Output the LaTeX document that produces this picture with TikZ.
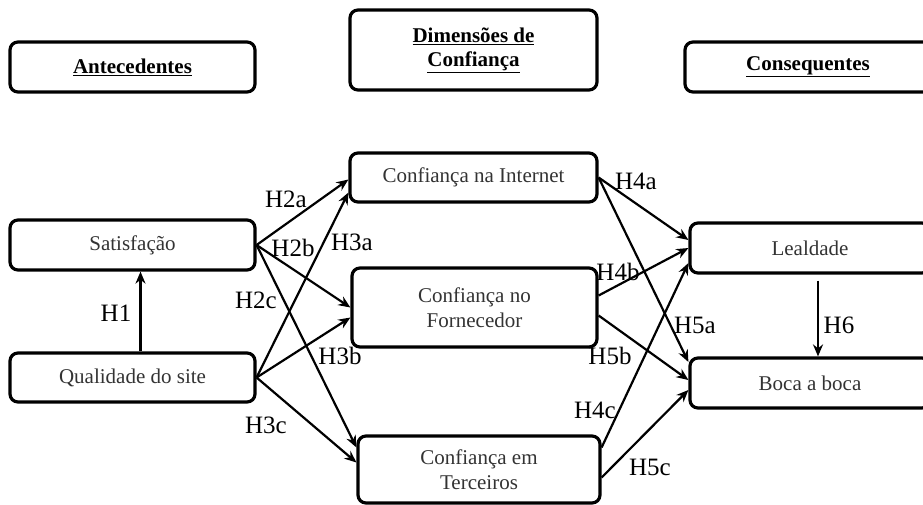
\documentclass[tikz,border=0pt]{standalone}
\usepackage{fontspec}
\setmainfont{Liberation Serif}
\usetikzlibrary{arrows.meta}

\begin{document}
\begin{tikzpicture}[x=1pt, y=-1pt,
        box/.style={rectangle, draw=black, line width=3.2pt, rounded corners=8pt,
                    fill=white, align=center, inner sep=0pt,
                    font=\fontsize{21}{25}\selectfont, text=black!80},
        head/.style={box, font=\fontsize{21}{24}\selectfont\bfseries, text=black},
        lab/.style={font=\fontsize{25}{28}\selectfont, inner sep=0pt},
        arr/.style={-{Stealth[length=12pt,width=10pt]}, line width=2.2pt}]
      \useasboundingbox (0,0) rectangle (923,504);
      \clip (0,0) rectangle (923,504);
      % headings
      \node[head, minimum width=245pt, minimum height=50pt] (ant) at (132.5,67) {\underline{Antecedentes}};
      \node[head, minimum width=247pt, minimum height=80pt] (dim) at (473.5,50) {\underline{Dimensões de}\\\underline{Confiança}};
      \node[head, minimum width=246pt, minimum height=50pt] (con) at (808,67) {\underline{Consequentes}};
      % antecedents
      \node[box, minimum width=245pt, minimum height=50pt] (sat) at (132.5,245) {Satisfação};
      \node[box, minimum width=245pt, minimum height=49pt] (qua) at (132.5,377.5) {Qualidade do site};
      % trust dimensions
      \node[box, minimum width=247pt, minimum height=49pt] (int) at (473.5,177.5) {Confiança na Internet};
      \node[box, minimum width=245pt, minimum height=79pt] (for) at (474.5,307.5) {Confiança no\\Fornecedor};
      \node[box, minimum width=242pt, minimum height=67pt] (ter) at (479,469.5) {Confiança em\\Terceiros};
      % consequents
      \node[box, minimum width=240pt, minimum height=50pt] (lea) at (810,248) {Lealdade};
      \node[box, minimum width=240pt, minimum height=50pt] (boc) at (810,383) {Boca a boca};
      % hypotheses
      \draw[arr] ([xshift=8pt]qua.north) -- ([xshift=8pt]sat.south);
      \draw[arr] (sat.east) -- ([yshift=-2pt]int.west);
      \draw[arr] (sat.east) -- (for.west);
      \draw[arr] (sat.east) -- ([yshift=22pt]ter.west);
      \draw[arr] (qua.east) -- ([yshift=-15pt]int.west);
      \draw[arr] (qua.east) -- ([yshift=-10pt]for.west);
      \draw[arr] (qua.east) -- ([yshift=7pt]ter.west);
      \draw[arr] (int.east) -- ([yshift=8pt]lea.west);
      \draw[arr] (int.east) -- ([yshift=21pt]boc.west);
      \draw[arr] ([yshift=12pt]for.east) -- (lea.west);
      \draw[arr] ([yshift=-8pt]for.east) -- ([yshift=3pt]boc.west);
      \draw[arr] ([yshift=22pt]ter.east) -- ([yshift=-15pt]lea.west);
      \draw[arr] ([yshift=-8pt]ter.east) -- ([yshift=-7pt]boc.west);
      \draw[arr, shorten <=6pt] ([xshift=8pt]lea.south) -- ([xshift=8pt]boc.north);
      % labels
      \node[lab] (h1) at (116,313) {H1};
      \node[lab] (h2a) at (286,199) {H2a};
      \node[lab] (h2b) at (293,248) {H2b};
      \node[lab] (h2c) at (256,300) {H2c};
      \node[lab] (h3a) at (352,242) {H3a};
      \node[lab] (h3b) at (340,356) {H3b};
      \node[lab] (h3c) at (266,425) {H3c};
      \node[lab] (h4a) at (636,181) {H4a};
      \node[lab] (h4b) at (618,272) {H4b};
      \node[lab] (h4c) at (595,410) {H4c};
      \node[lab] (h5a) at (695,325) {H5a};
      \node[lab] (h5b) at (610,356) {H5b};
      \node[lab] (h5c) at (650,467) {H5c};
      \node[lab] (h6) at (839,325) {H6};
    \end{tikzpicture}
\end{document}
